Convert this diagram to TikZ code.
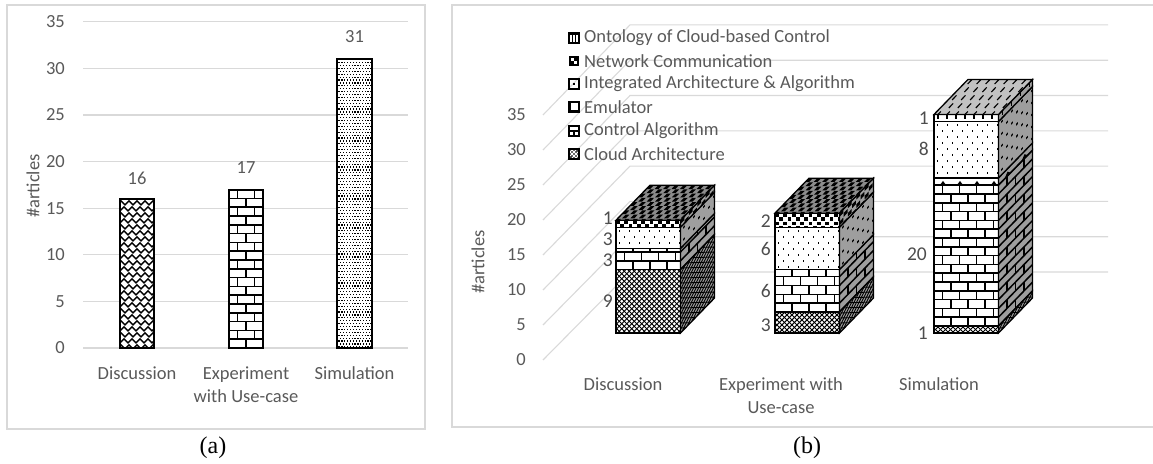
\documentclass[tikz,border=0pt]{standalone}
\usepackage{fontspec}
\setmainfont{Carlito}
\newfontfamily\capfont{Liberation Serif}

\definecolor{gridgray}{HTML}{D9D9D9}
\definecolor{txtgray}{HTML}{595959}
\definecolor{lblgray}{HTML}{4D4D4D}
\definecolor{sidegray}{HTML}{9E9E9E}
\definecolor{topgray}{HTML}{C2C2C2}
\definecolor{topdark}{HTML}{8C8C8C}

\tikzset{
  frame/.style={draw=gridgray, line width=1.3pt},
  gridline/.style={draw=gridgray, line width=1.1pt},
  ticklbl/.style={font=\fontsize{18.5}{20}\selectfont, text=txtgray, anchor=east, inner sep=0pt},
  catlbl/.style={font=\fontsize{18.5}{23}\selectfont, text=txtgray, align=center, inner sep=0pt},
  vallbl/.style={font=\fontsize{18.5}{20}\selectfont, text=txtgray, inner sep=0pt},
  seglbl/.style={font=\fontsize{19.5}{20}\selectfont, text=lblgray, anchor=east, inner sep=0pt},
  legtxt/.style={font=\fontsize{18.5}{20}\selectfont, text=txtgray, anchor=west, inner sep=0pt},
  captxt/.style={font=\capfont\fontsize{24}{26}\selectfont, text=black, inner sep=0pt},
  edge/.style={draw=black, line width=1.3pt},
  baredge/.style={draw=black, line width=1.8pt},
  mortar/.style={draw=black, line width=1.5pt},
  zig/.style={draw=black, line width=1.5pt},
  mesh/.style={draw=black, line width=0.9pt},
  tick/.style={draw=black, line width=1.1pt},
  icon/.style={draw=black, line width=1.2pt}
}

% ---------- fill patterns; each draws into the box x0,y0,x1,y1 (y grows downwards)
\newcommand\patBricks[4]{%
  \pgfmathtruncatemacro\nR{ceil(((#4)-(#2))/8.8)}%
  \pgfmathtruncatemacro\nC{ceil(((#3)-(#1))/17)+1}%
  \foreach \r in {0,...,\nR}{%
    \pgfmathsetmacro\yb{(#4)-\r*8.8}%
    \draw[mortar] ({(#1)-2},\yb) -- ({(#3)+2},\yb);
    \foreach \c in {-1,...,\nC}{%
      \pgfmathsetmacro\xb{(#1)+\c*17+mod(\r,2)*8.5}%
      \draw[mortar] (\xb,\yb) -- (\xb,\yb-8.8);
    }%
  }%
}
\newcommand\patFine[4]{%
  \pgfmathtruncatemacro\nR{ceil(((#4)-(#2))/2.9)}%
  \pgfmathtruncatemacro\nC{ceil(((#3)-(#1))/2.9)}%
  \foreach \r in {0,...,\nR}{\foreach \c in {0,...,\nC}{%
    \fill ({(#1)+\c*2.9+mod(\r,2)*1.45},{(#2)+\r*2.9}) rectangle ++(1.2,1.2);}}%
}
\newcommand\patZig[4]{%
  \pgfmathtruncatemacro\nR{ceil(((#4)-(#2))/6)+1}%
  \pgfmathtruncatemacro\nK{ceil(((#3)-(#1))/8)+1}%
  \foreach \r in {0,...,\nR}{%
    \pgfmathsetmacro\yz{(#2)+\r*6-4}%
    \draw[zig] ({(#1)-4-mod(\r,2)*3},\yz) \foreach \k in {0,...,\nK}{ -- ++(4,4) -- ++(4,-4) };
  }%
}
\newcommand\patCloud[4]{%
  \pgfmathsetmacro\ph{(#4)-(#2)}%
  \pgfmathtruncatemacro\nN{ceil(((#3)-(#1)+\ph)/5)+1}%
  \foreach \i in {0,...,\nN}{%
    \pgfmathsetmacro\xs{(#1)-\ph+\i*5}%
    \draw[mesh] (\xs,#4) -- ++(\ph,-\ph);
    \draw[mesh] (\xs,#2) -- ++(\ph,\ph);
  }%
}
\newcommand\patDots[4]{%
  \pgfmathtruncatemacro\nR{ceil(((#4)-(#2))/6)}%
  \pgfmathtruncatemacro\nC{ceil(((#3)-(#1))/10)}%
  \foreach \r in {0,...,\nR}{\foreach \c in {0,...,\nC}{%
    \fill ({(#1)+2.5+\c*10+mod(\r,2)*5},{(#2)+2.5+\r*6}) rectangle ++(1.8,1.8);}}%
}
\newcommand\patChecker[4]{%
  \pgfmathtruncatemacro\nR{ceil(((#4)-(#2))/4.2)}%
  \pgfmathtruncatemacro\nC{ceil(((#3)-(#1))/8.4)}%
  \foreach \r in {0,...,\nR}{\foreach \c in {0,...,\nC}{%
    \fill ({(#1)+\c*8.4+mod(\r,2)*4.2},{(#2)+\r*4.2}) rectangle ++(3.8,3.8);}}%
}
\newcommand\patOnto[4]{%
  \pgfmathtruncatemacro\nR{ceil(((#4)-(#2))/8)}%
  \pgfmathtruncatemacro\nC{ceil(((#3)-(#1))/9)}%
  \foreach \r in {0,...,\nR}{\foreach \c in {0,...,\nC}{%
    \draw[tick] ({(#1)+4+\c*9+mod(\r,2)*4.5},{(#2)+\r*8}) -- ++(0,4.5);}}%
}
\newcommand\patEmu[4]{%
  \pgfmathtruncatemacro\nR{ceil(((#4)-(#2))/7)}%
  \pgfmathtruncatemacro\nC{ceil(((#3)-(#1))/17)}%
  \foreach \r in {0,...,\nR}{\foreach \c in {0,...,\nC}{%
    \fill ({(#1)+6+\c*17+mod(\r,2)*8.5},{(#4)-\r*7}) -- ++(3,-4) -- ++(3,4) -- cycle;}}%
}

% ---------- flat bar of panel (a), base at y=348
\newcommand\flatbar[4]{%
  \fill[white] (#2,#4) rectangle (#3,348);
  \begin{scope}\clip (#2,#4) rectangle (#3,348); #1{#2}{#4}{#3}{348}\end{scope}
  \draw[baredge] (#2,#4) rectangle (#3,348);
}

% ---------- one slice of a 3-D column: pattern, left x, value from, value to
\newcommand\slice[4]{%
  \pgfmathsetmacro\ya{333-(#3)*7.05}%
  \pgfmathsetmacro\yt{333-(#4)*7.05}%
  \fill[white] (#2,\yt) rectangle ({#2+64.5},\ya);
  \begin{scope}\clip (#2,\yt) rectangle ({#2+64.5},\ya); #1{#2}{\yt}{#2+64.5}{\ya}\end{scope}
  \draw[edge] (#2,\yt) rectangle ({#2+64.5},\ya);
  \begin{scope}[shift={({#2+64.5},0)}, yslant=1.0294]
    \fill[sidegray] (0,\yt) rectangle (34,\ya);
    \begin{scope}\clip (0,\yt) rectangle (34,\ya); #1{0}{\yt}{34}{\ya}\end{scope}
    \draw[edge] (0,\yt) rectangle (34,\ya);
  \end{scope}
}
% ---------- lid of a 3-D column: pattern, left x, top value, ground colour
\newcommand\lid[4]{%
  \pgfmathsetmacro\yt{333-(#3)*7.05}%
  \begin{scope}[shift={(0,\yt)}, xslant=0.9714]
    \fill[#4] (#2,-35) rectangle ({#2+64.5},0);
    \begin{scope}\clip (#2,-35) rectangle ({#2+64.5},0); #1{#2}{-35}{#2+64.5}{0}\end{scope}
    \draw[edge] (#2,-35) rectangle ({#2+64.5},0);
  \end{scope}
}

\begin{document}
\begin{tikzpicture}[x=1pt,y=-1pt]
\useasboundingbox (0,0) rectangle (1153,463);

% ================= panel (a) =================
\draw[frame] (7,5) rectangle (425,429);
\foreach \v in {0,5,...,35}{
  \pgfmathsetmacro\gy{348-\v*9.32}
  \draw[gridline] (83,\gy) -- (408,\gy);
  \node[ticklbl] (ta\v) at (65,\gy) {\v};
}
\node[font=\fontsize{18.5}{20}\selectfont, text=txtgray, rotate=90, inner sep=0pt] (yla) at (33,186) {\#articles};

\flatbar{\patZig}{120}{154}{198.9}
\flatbar{\patBricks}{229}{263}{189.6}
\flatbar{\patFine}{337}{372}{59.1}

\node[vallbl] (va1) at (137,178) {16};
\node[vallbl] (va2) at (246,168) {17};
\node[vallbl] (va3) at (354.5,37) {31};

\node[catlbl] (ca1) at (137,373) {Discussion};
\node[catlbl] (ca2) at (246,384.5) {Experiment\\with Use-case};
\node[catlbl] (ca3) at (354.5,373) {Simulation};

\node[captxt] (capa) at (213,448) {(a)};

% ================= panel (b) =================
\draw[frame] (452,5) rectangle (1160,427);
\foreach \v in {0,5,...,35}{
  \pgfmathsetmacro\fy{360-7*\v}
  \pgfmathsetmacro\by{272-7.06*\v}
  \draw[gridline] (543,\fy) -- (630,\by) -- (1108,\by);
  \node[ticklbl] (tb\v) at (526,\fy) {\v};
}
\node[font=\fontsize{18.5}{20}\selectfont, text=txtgray, rotate=90, inner sep=0pt] (ylb) at (478,262) {\#articles};

% legend
\draw[icon] (569,33) rectangle (579,43);
\draw[icon] (572.5,33) -- (572.5,43) (575.5,33) -- (575.5,43);
\draw[line width=2pt] (569,33.5) -- (579,33.5);
\node[legtxt] (lg1) at (584,38) {Ontology of Cloud-based Control};

\fill (569,56) rectangle (579,66);
\fill[white] (571,58) rectangle (574,61);
\fill[white] (574,61) rectangle (577,64);
\node[legtxt] (lg2) at (584,61) {Network Communication};

\draw[icon] (569,79) rectangle (579,89);
\fill (573,83) rectangle (575,85);
\node[legtxt] (lg3) at (584,84) {Integrated Architecture \& Algorithm};

\draw[icon] (569,102) rectangle (579,112);
\draw[line width=2.2pt] (569,111) -- (579,111);
\draw[line width=2.2pt] (569.8,102) -- (569.8,112);
\node[legtxt] (lg4) at (584,107) {Emulator};

\draw[icon] (569,126) rectangle (579,136);
\draw[icon] (569,131) -- (579,131) (574,131) -- (574,136);
\node[legtxt] (lg5) at (584,131) {Control Algorithm};

\fill[black!75] (569,149) rectangle (579,159);
\draw[white, line width=0.8pt] (570,152) -- (572,150) (570,156) -- (576,150) (572,158) -- (578,152) (576,158) -- (578,156)
  (570,152) -- (576,158) (572,150) -- (578,156);
\draw[icon] (569,149) rectangle (579,159);
\node[legtxt] (lg6) at (584,154) {Cloud Architecture};

% column: Discussion
\slice{\patCloud}{616}{0}{9}
\slice{\patBricks}{616}{9}{12}
\slice{\patDots}{616}{12}{15}
\slice{\patChecker}{616}{15}{16}
\lid{\patChecker}{616}{16}{topdark}

% column: Experiment with Use-case
\slice{\patCloud}{775}{0}{3}
\slice{\patBricks}{775}{3}{9}
\slice{\patDots}{775}{9}{15}
\slice{\patChecker}{775}{15}{17}
\lid{\patChecker}{775}{17}{topdark}

% column: Simulation
\slice{\patCloud}{934}{0}{1}
\slice{\patBricks}{934}{1}{21}
\slice{\patEmu}{934}{21}{22}
\slice{\patDots}{934}{22}{30}
\slice{\patOnto}{934}{30}{31}
\lid{\patOnto}{934}{31}{topgray}

% slice values
\node[seglbl] (d1) at (613,218) {1};
\node[seglbl] (d2) at (613,239) {3};
\node[seglbl] (d3) at (613,260) {3};
\node[seglbl] (d4) at (613,301) {9};
\node[seglbl] (e1) at (771,221) {2};
\node[seglbl] (e2) at (771,249) {6};
\node[seglbl] (e3) at (771,291) {6};
\node[seglbl] (e4) at (771,325) {3};
\node[seglbl] (s1) at (929,118) {1};
\node[seglbl] (s2) at (929,149) {8};
\node[seglbl] (s3) at (927,254) {20};
\node[seglbl] (s4) at (928,333) {1};

\node[catlbl] (cb1) at (623,384) {Discussion};
\node[catlbl] (cb2) at (781,395.5) {Experiment with\\Use-case};
\node[catlbl] (cb3) at (939,384) {Simulation};

\node[captxt] (capb) at (807,448) {(b)};
\end{tikzpicture}
\end{document}
